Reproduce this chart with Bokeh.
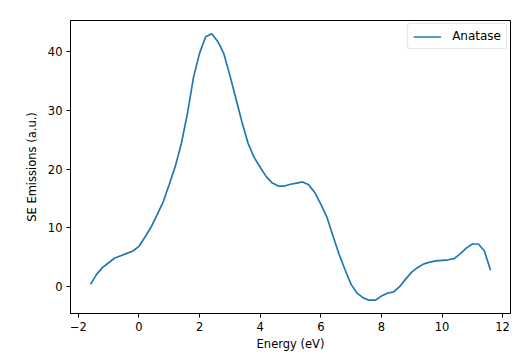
from bokeh.plotting import figure
from bokeh.models import Range1d, FixedTicker, CustomJSTickFormatter, ColumnDataSource, Legend, LegendItem
from bokeh.embed import file_html
from bokeh.resources import INLINE

energy = [-1.6, -1.4, -1.2, -1.0, -0.8, -0.6, -0.4, -0.2, 0.0, 0.2, 0.4, 0.6, 0.8, 1.0, 1.2,
          1.4, 1.6, 1.8, 2.0, 2.2, 2.4, 2.6, 2.8, 3.0, 3.2, 3.4, 3.6, 3.8, 4.0, 4.2, 4.4,
          4.6, 4.8, 5.0, 5.2, 5.4, 5.6, 5.8, 6.0, 6.2, 6.4, 6.6, 6.8, 7.0, 7.2, 7.4, 7.6,
          7.8, 8.0, 8.2, 8.4, 8.6, 8.8, 9.0, 9.2, 9.4, 9.6, 9.8, 10.0, 10.2, 10.4, 10.6,
          10.8, 11.0, 11.2, 11.4, 11.6]
emissions = [0.3, 2.0, 3.2, 4.0, 4.8, 5.2, 5.6, 6.0, 6.8, 8.4, 10.1, 12.2, 14.4, 17.4, 20.5,
             24.4, 29.5, 35.7, 39.8, 42.6, 43.1, 41.8, 39.7, 36.0, 32.0, 28.0, 24.4, 22.0, 20.3, 18.7, 17.6,
             17.1, 17.1, 17.4, 17.6, 17.8, 17.3, 16.0, 14.0, 11.8, 8.6, 5.5, 2.8, 0.3, -1.2, -2.0, -2.4,
             -2.4, -1.7, -1.2, -1.0, -0.1, 1.2, 2.4, 3.2, 3.8, 4.1, 4.3, 4.4, 4.5, 4.7, 5.5,
             6.5, 7.2, 7.2, 6.0, 2.7]
x_ticks = [-2, 0, 2, 4, 6, 8, 10, 12]
y_ticks = [0, 10, 20, 30, 40]
series_name = "Anatase"

FONT = "DejaVu Sans"
FS = "11.5px"

xspan = max(energy) - min(energy)
yspan = max(emissions) - min(emissions)

p = figure(width=526, height=355, output_backend="svg", toolbar_location=None,
           x_range=Range1d(min(energy) - 0.05 * xspan, max(energy) + 0.05 * xspan),
           y_range=Range1d(min(emissions) - 0.05 * yspan, max(emissions) + 0.05 * yspan),
           min_border_left=70, min_border_right=16, min_border_top=20, min_border_bottom=42)

src = ColumnDataSource(dict(x=energy, y=emissions))
r = p.line("x", "y", source=src, line_color="#1f77b4", line_width=1.7)

p.xgrid.visible = False
p.ygrid.visible = False
p.outline_line_color = "black"
p.outline_line_width = 1
p.outline_line_alpha = 1

fmt = CustomJSTickFormatter(code="return tick < 0 ? '\\u2212' + Math.abs(tick) : tick.toString();")
for ax, ticks in ((p.xaxis[0], x_ticks), (p.yaxis[0], y_ticks)):
    ax.ticker = FixedTicker(ticks=ticks)
    ax.formatter = fmt
    ax.minor_tick_line_color = None
    ax.major_tick_out = 4
    ax.major_tick_in = 0
    ax.axis_line_color = "black"
    ax.major_tick_line_color = "black"
    ax.major_label_text_font = FONT
    ax.major_label_text_font_size = FS
    ax.major_label_text_color = "black"
    ax.axis_label_text_font = FONT
    ax.axis_label_text_font_size = FS
    ax.axis_label_text_font_style = "normal"
    ax.axis_label_text_color = "black"
    ax.major_label_standoff = 4

p.xaxis.axis_label = "Energy (eV)"
p.yaxis.axis_label = "SE Emissions (a.u.)"
p.xaxis.axis_label_standoff = 3
p.yaxis.axis_label_standoff = 6

legend = Legend(items=[LegendItem(label=series_name, renderers=[r])], location="top_right")
legend.margin = 3
legend.padding = 5
legend.spacing = 0
legend.glyph_width = 28
legend.glyph_height = 11
legend.label_standoff = 11
legend.label_text_font = FONT
legend.label_text_font_size = "12px"
legend.label_text_color = "black"
legend.border_line_color = "#cccccc"
legend.border_line_width = 1
legend.border_radius = 3
legend.background_fill_alpha = 0.8
p.add_layout(legend)

open("out.html", "w").write(file_html(p, INLINE))
